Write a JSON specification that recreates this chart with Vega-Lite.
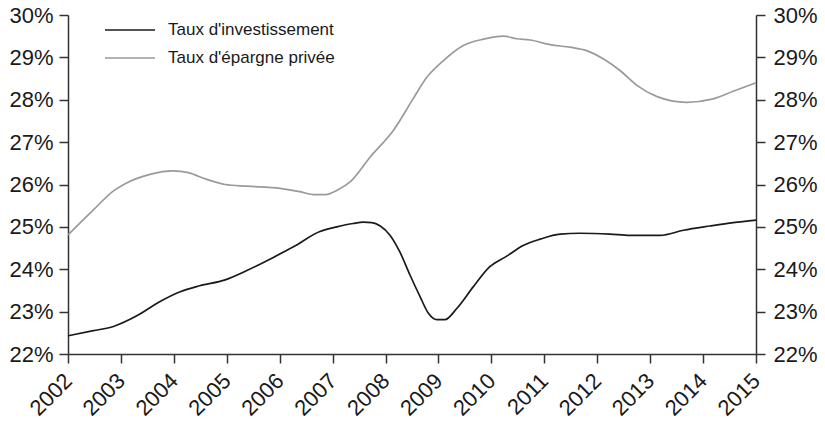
{
  "$schema": "https://vega.github.io/schema/vega-lite/v6.json",
  "width": 688,
  "height": 339,
  "autosize": {"type": "none"},
  "padding": {"left": 68, "top": 15, "right": 69, "bottom": 70},
  "background": "white",
  "config": {
    "view": {"stroke": null},
    "font": "Liberation Sans",
    "axis": {
      "grid": false,
      "domainColor": "#333333",
      "domainWidth": 1.5,
      "tickColor": "#333333",
      "tickWidth": 1.5,
      "tickSize": 9,
      "labelColor": "#1a1a1a",
      "labelFont": "Liberation Sans",
      "labelFontSize": 22,
      "title": null
    }
  },
  "data": {
    "values": [
      {"t": 2002.0, "s": "Taux d'investissement", "v": 22.43},
      {"t": 2002.48, "s": "Taux d'investissement", "v": 22.55},
      {"t": 2002.86, "s": "Taux d'investissement", "v": 22.65},
      {"t": 2003.3, "s": "Taux d'investissement", "v": 22.9},
      {"t": 2003.74, "s": "Taux d'investissement", "v": 23.24},
      {"t": 2004.12, "s": "Taux d'investissement", "v": 23.47},
      {"t": 2004.49, "s": "Taux d'investissement", "v": 23.61},
      {"t": 2004.97, "s": "Taux d'investissement", "v": 23.75},
      {"t": 2005.38, "s": "Taux d'investissement", "v": 23.97},
      {"t": 2005.88, "s": "Taux d'investissement", "v": 24.28},
      {"t": 2006.26, "s": "Taux d'investissement", "v": 24.53},
      {"t": 2006.76, "s": "Taux d'investissement", "v": 24.89},
      {"t": 2007.08, "s": "Taux d'investissement", "v": 25.0},
      {"t": 2007.39, "s": "Taux d'investissement", "v": 25.08},
      {"t": 2007.58, "s": "Taux d'investissement", "v": 25.11},
      {"t": 2007.74, "s": "Taux d'investissement", "v": 25.1},
      {"t": 2007.9, "s": "Taux d'investissement", "v": 25.02},
      {"t": 2008.08, "s": "Taux d'investissement", "v": 24.81},
      {"t": 2008.27, "s": "Taux d'investissement", "v": 24.41},
      {"t": 2008.46, "s": "Taux d'investissement", "v": 23.87},
      {"t": 2008.65, "s": "Taux d'investissement", "v": 23.36},
      {"t": 2008.81, "s": "Taux d'investissement", "v": 22.96},
      {"t": 2008.97, "s": "Taux d'investissement", "v": 22.81},
      {"t": 2009.12, "s": "Taux d'investissement", "v": 22.81},
      {"t": 2009.35, "s": "Taux d'investissement", "v": 23.08},
      {"t": 2009.66, "s": "Taux d'investissement", "v": 23.59},
      {"t": 2009.97, "s": "Taux d'investissement", "v": 24.06},
      {"t": 2010.29, "s": "Taux d'investissement", "v": 24.31},
      {"t": 2010.6, "s": "Taux d'investissement", "v": 24.56},
      {"t": 2010.92, "s": "Taux d'investissement", "v": 24.71},
      {"t": 2011.3, "s": "Taux d'investissement", "v": 24.83},
      {"t": 2011.67, "s": "Taux d'investissement", "v": 24.85},
      {"t": 2012.24, "s": "Taux d'investissement", "v": 24.83},
      {"t": 2012.62, "s": "Taux d'investissement", "v": 24.8},
      {"t": 2013.19, "s": "Taux d'investissement", "v": 24.8},
      {"t": 2013.63, "s": "Taux d'investissement", "v": 24.92},
      {"t": 2014.13, "s": "Taux d'investissement", "v": 25.02},
      {"t": 2014.57, "s": "Taux d'investissement", "v": 25.1},
      {"t": 2015.0, "s": "Taux d'investissement", "v": 25.16},
      {"t": 2002.0, "s": "Taux d'épargne privée", "v": 24.81},
      {"t": 2002.48, "s": "Taux d'épargne privée", "v": 25.4},
      {"t": 2002.86, "s": "Taux d'épargne privée", "v": 25.85},
      {"t": 2003.08, "s": "Taux d'épargne privée", "v": 26.02},
      {"t": 2003.55, "s": "Taux d'épargne privée", "v": 26.24},
      {"t": 2003.99, "s": "Taux d'épargne privée", "v": 26.32},
      {"t": 2004.27, "s": "Taux d'épargne privée", "v": 26.28},
      {"t": 2004.62, "s": "Taux d'épargne privée", "v": 26.12},
      {"t": 2004.97, "s": "Taux d'épargne privée", "v": 26.0},
      {"t": 2005.38, "s": "Taux d'épargne privée", "v": 25.96},
      {"t": 2006.01, "s": "Taux d'épargne privée", "v": 25.91},
      {"t": 2006.38, "s": "Taux d'épargne privée", "v": 25.83},
      {"t": 2006.67, "s": "Taux d'épargne privée", "v": 25.76},
      {"t": 2006.86, "s": "Taux d'épargne privée", "v": 25.76},
      {"t": 2007.11, "s": "Taux d'épargne privée", "v": 25.88},
      {"t": 2007.33, "s": "Taux d'épargne privée", "v": 26.06},
      {"t": 2007.71, "s": "Taux d'épargne privée", "v": 26.65},
      {"t": 2008.15, "s": "Taux d'épargne privée", "v": 27.28},
      {"t": 2008.52, "s": "Taux d'épargne privée", "v": 28.02},
      {"t": 2008.78, "s": "Taux d'épargne privée", "v": 28.53},
      {"t": 2009.09, "s": "Taux d'épargne privée", "v": 28.92},
      {"t": 2009.47, "s": "Taux d'épargne privée", "v": 29.28},
      {"t": 2009.85, "s": "Taux d'épargne privée", "v": 29.43},
      {"t": 2010.23, "s": "Taux d'épargne privée", "v": 29.5},
      {"t": 2010.48, "s": "Taux d'épargne privée", "v": 29.44},
      {"t": 2010.73, "s": "Taux d'épargne privée", "v": 29.41},
      {"t": 2011.11, "s": "Taux d'épargne privée", "v": 29.3},
      {"t": 2011.49, "s": "Taux d'épargne privée", "v": 29.24},
      {"t": 2011.8, "s": "Taux d'épargne privée", "v": 29.16},
      {"t": 2012.12, "s": "Taux d'épargne privée", "v": 28.96},
      {"t": 2012.43, "s": "Taux d'épargne privée", "v": 28.69},
      {"t": 2012.75, "s": "Taux d'épargne privée", "v": 28.34},
      {"t": 2013.12, "s": "Taux d'épargne privée", "v": 28.08},
      {"t": 2013.69, "s": "Taux d'épargne privée", "v": 27.94},
      {"t": 2014.19, "s": "Taux d'épargne privée", "v": 28.02},
      {"t": 2014.57, "s": "Taux d'épargne privée", "v": 28.2},
      {"t": 2015.0, "s": "Taux d'épargne privée", "v": 28.4}
    ]
  },
  "encoding": {
    "x": {
      "field": "t",
      "type": "quantitative",
      "scale": {"domain": [2002, 2015], "nice": false, "zero": false},
      "axis": {
        "values": [2002, 2003, 2004, 2005, 2006, 2007, 2008, 2009, 2010, 2011, 2012, 2013, 2014, 2015],
        "format": "d",
        "labelAngle": -45,
        "labelAlign": "right",
        "labelBaseline": "middle",
        "labelPadding": 14,
        "labelFontSize": 22
      }
    }
  },
  "layer": [
    {
      "mark": {"type": "line", "strokeWidth": 1.7, "interpolate": "monotone"},
      "encoding": {
        "y": {
          "field": "v",
          "type": "quantitative",
          "scale": {"domain": [22, 30], "nice": false, "zero": false},
          "axis": {"orient": "left", "values": [22, 23, 24, 25, 26, 27, 28, 29, 30], "labelExpr": "datum.value + '%'", "labelPadding": 6}
        },
        "color": {
          "field": "s",
          "type": "nominal",
          "sort": ["Taux d'investissement", "Taux d'épargne privée"],
          "scale": {"domain": ["Taux d'investissement", "Taux d'épargne privée"], "range": ["#1a1a1a", "#9a9a9a"]},
          "legend": {
            "title": null,
            "orient": "none",
            "legendX": 51,
            "legendY": 4,
            "symbolType": "M-2.5,0H2.5",
            "symbolSize": 400,
            "symbolStrokeWidth": 1.6,
            "labelFontSize": 17,
            "labelLimit": 400,
            "labelColor": "#1a1a1a",
            "labelFont": "Liberation Sans",
            "rowPadding": 9,
            "padding": 0,
            "labelOffset": 27
          }
        }
      }
    },
    {
      "mark": {"type": "line", "strokeOpacity": 0},
      "encoding": {
        "detail": {"field": "s"},
        "y": {
          "field": "v",
          "type": "quantitative",
          "axis": {"orient": "right", "values": [22, 23, 24, 25, 26, 27, 28, 29, 30], "labelExpr": "datum.value + '%'", "labelPadding": 8}
        }
      }
    }
  ],
  "resolve": {"axis": {"y": "independent"}}
}
